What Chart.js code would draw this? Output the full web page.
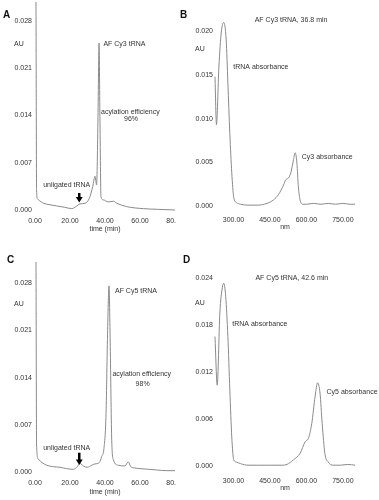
<!DOCTYPE html>
<html><head><meta charset="utf-8">
<script src="https://cdn.jsdelivr.net/npm/chart.js@4/dist/chart.umd.min.js"></script>
<style>
html,body{margin:0;padding:0;background:#fff;width:379px;height:500px;overflow:hidden;font-family:"Liberation Sans",Arial,sans-serif}
.p{position:absolute}
.lt{position:absolute;font:bold 10px "Liberation Sans",Arial,sans-serif;color:#111;line-height:1}
</style></head><body>
<div class="p" style="left:0;top:0;width:176px;height:235px"><canvas id="cA"></canvas></div>
<div class="p" style="left:190px;top:0;width:189px;height:235px"><canvas id="cB"></canvas></div>
<div class="p" style="left:0;top:250px;width:176px;height:250px"><canvas id="cC"></canvas></div>
<div class="p" style="left:190px;top:250px;width:189px;height:250px"><canvas id="cD"></canvas></div>
<div class="lt" style="left:3px;top:10px">A</div>
<div class="lt" style="left:180px;top:10px">B</div>
<div class="lt" style="left:7px;top:255px">C</div>
<div class="lt" style="left:183px;top:255px">D</div>
<script>
// ---- data ----
const aTime = [0, 0.5, 0.9, 1.3, 2.5, 4.8, 8, 12.4, 17, 21, 23.4, 25.7, 28.6, 31, 33, 34.3, 35.2, 36.0, 36.6, 37.1, 37.7, 39, 41.9, 44.8, 46.7, 52.4, 61.9, 70, 80];
const aAbs  = [0.0320, 0.0320, 0.0030, 0.0017, 0.0014, 0.0010, 0.0008, 0.0006, 0.0004, 0.0002, 0.0005, 0.0009, 0.0010, 0.0017, 0.0035, 0.0050, 0.0037, 0.0138, 0.0247, 0.0138, 0.0020, 0.0015, 0.0012, 0.0013, 0.0010, 0.0005, 0.0002, 0.0001, 0.0000];

const bNm  = [224, 230, 240, 250, 260, 270, 277, 285, 293, 301, 312, 329, 360, 400, 438, 465, 485, 506, 515, 526, 536, 547, 554, 561, 567, 574, 585, 600, 630, 660, 690, 720, 750, 780, 800];
const bAbs = [0.0148, 0.0093, 0.0159, 0.0199, 0.0210, 0.0190, 0.0141, 0.0083, 0.0038, 0.0010, 0.0004, 0.0002, 0.0001, 0.0001, 0.0003, 0.0007, 0.0013, 0.0024, 0.0030, 0.0032, 0.0038, 0.0053, 0.0061, 0.0049, 0.0022, 0.0007, 0.0002, 0.0002, 0.0003, 0.0002, 0.0003, 0.0002, 0.0003, 0.0002, 0.0002];

const cTime = [0, 0.5, 0.9, 1.9, 4, 6.7, 10, 14.3, 18, 21.9, 24.2, 25.7, 27.6, 29.9, 32.4, 34.3, 36.8, 38.1, 39.4, 40.6, 41.5, 42.3, 43.0, 43.8, 44.8, 47.6, 51.4, 53.3, 54.7, 57, 60, 65, 69.5, 75, 80];
const cAbs  = [0.0330, 0.0330, 0.0040, 0.0019, 0.0014, 0.0010, 0.0008, 0.0007, 0.0005, 0.0004, 0.0008, 0.0013, 0.0009, 0.0007, 0.0010, 0.0012, 0.0014, 0.0023, 0.0035, 0.0087, 0.0210, 0.0276, 0.0186, 0.0052, 0.0018, 0.0010, 0.0009, 0.0015, 0.0008, 0.0006, 0.0005, 0.0004, 0.0003, 0.0002, 0.0002];

const dNm  = [224, 233, 244, 254, 260, 268, 277, 285, 293, 301, 312, 329, 360, 400, 450, 500, 520, 547, 574, 595, 608, 622, 636, 646, 656, 665, 676, 690, 710, 740, 770, 800];
const dAbs = [0.0165, 0.0103, 0.0195, 0.0227, 0.0233, 0.0216, 0.0165, 0.0097, 0.0037, 0.0008, 0.0005, 0.0003, 0.0001, 0.0001, 0.0001, 0.0001, 0.0002, 0.0008, 0.0016, 0.0031, 0.0035, 0.0054, 0.0089, 0.0106, 0.0093, 0.0054, 0.0016, 0.0005, 0.0001, 0.0001, 0.0002, 0.0001];

const timeTicks = [0, 20, 40, 60, 80];
const nmTicks   = [300, 450, 600, 750];
const yTicksAC  = [0, 0.007, 0.014, 0.021, 0.028];
const yTicksB   = [0, 0.005, 0.010, 0.015, 0.020];
const yTicksD   = [0, 0.006, 0.012, 0.018, 0.024];

// ---- style ----
const TEXT = '#333';
const LINE = '#8a8a8a';
const FONT = '"Liberation Sans", Arial, sans-serif';
const FS = 7;

const annot = {
  id: 'annot',
  afterDatasetsDraw(chart, args, o) {
    const ctx = chart.ctx, xs = chart.scales.x, ys = chart.scales.y;
    ctx.save();
    ctx.fillStyle = TEXT;
    ctx.font = FS + 'px ' + FONT;
    ctx.textBaseline = 'middle';
    (o.texts || []).forEach(t => {
      ctx.textAlign = t.align || 'left';
      ctx.fillText(t.text, xs.getPixelForValue(t.x), ys.getPixelForValue(t.y));
    });
    if (o.au !== undefined) {
      ctx.textAlign = 'left';
      const w = ctx.measureText('0.000').width;
      ctx.fillText('AU', ys.right - o.ypad - w - 0.5, ys.getPixelForValue(o.au));
    }
    if (o.arrow) {
      const ax = Math.round(xs.getPixelForValue(o.arrow.x));
      const top = ys.getPixelForValue(o.arrow.top);
      const tip = ys.getPixelForValue(o.arrow.tip);
      ctx.fillStyle = '#000';
      ctx.fillRect(ax - 1, top, 2.5, tip - top - 4);
      ctx.beginPath();
      ctx.moveTo(ax - 3.2, tip - 5.5);
      ctx.lineTo(ax + 3.7, tip - 5.5);
      ctx.lineTo(ax + 0.25, tip);
      ctx.closePath();
      ctx.fill();
    }
    ctx.restore();
  }
};

function makeChart(id, xv, yv, c) {
  const pts = xv.map((x, i) => ({x: x, y: yv[i]}));
  return new Chart(document.getElementById(id), {
    type: 'line',
    data: {datasets: [{data: pts, borderColor: LINE, borderWidth: 1, pointRadius: 0, tension: 0.3,
      cubicInterpolationMode: 'monotone', fill: false, clip: {left: 2, right: 1, top: 0, bottom: 2}}]},
    options: {
      responsive: true, maintainAspectRatio: false, animation: false, events: [],
      layout: {padding: c.pad},
      plugins: {legend: {display: false}, tooltip: {enabled: false}, annot: c.annot},
      scales: {
        x: {type: 'linear', min: c.xmin, max: c.xmax,
          border: {display: false}, grid: {display: false, drawTicks: false},
          afterBuildTicks: s => { s.ticks = c.xticks.map(v => ({value: v})); },
          ticks: {autoSkip: false, maxRotation: 0, minRotation: 0, padding: c.xpad, color: TEXT,
            font: {size: FS, family: FONT}, callback: v => Number(v).toFixed(2)},
          title: {display: true, text: c.xtitle, color: TEXT, font: {size: FS, family: FONT},
            padding: {top: 0, bottom: c.tpad}},
          afterFit: s => { s.height = c.xh; s.paddingLeft = 0; s.paddingRight = 0; }
        },
        y: {type: 'linear', min: 0, max: c.ymax,
          border: {display: false}, grid: {display: false, drawTicks: false},
          afterBuildTicks: s => { s.ticks = c.yticks.map(v => ({value: v})); },
          ticks: {autoSkip: false, padding: c.ypad, color: TEXT, font: {size: FS, family: FONT},
            callback: v => Number(v).toFixed(3)},
          afterFit: s => { s.width = c.yw; s.paddingTop = 0; s.paddingBottom = 0; }
        }
      }
    },
    plugins: [annot]
  });
}

makeChart('cA', aTime, aAbs, {
  pad: {top: 2, right: 1, left: 0, bottom: 0}, xmin: 0, xmax: 80, ymax: 0.03078,
  xticks: timeTicks, yticks: yTicksAC, xpad: 7, xh: 25, yw: 35, ypad: 3, tpad: 2, xtitle: 'time (min)',
  annot: {ypad: 3, au: 0.0246,
    texts: [
      {text: 'AF Cy3 tRNA', x: 39.1, y: 0.02457},
      {text: 'acylation efficiency', x: 54.5, y: 0.01455, align: 'center'},
      {text: '96%', x: 54.9, y: 0.01342, align: 'center'},
      {text: 'unligated tRNA', x: 18.1, y: 0.0037, align: 'center'}
    ],
    arrow: {x: 25.1, top: 0.00252, tip: 0.00111}}
});

makeChart('cB', bNm, bAbs, {
  pad: {top: 5, right: 24, left: 0, bottom: 0}, xmin: 224, xmax: 800, ymax: 0.023,
  xticks: nmTicks, yticks: yTicksB, xpad: 10, xh: 29, yw: 25, ypad: 2, tpad: 4, xtitle: 'nm',
  annot: {ypad: 2, au: 0.01793,
    texts: [
      {text: 'AF Cy3 tRNA, 36.8 min', x: 537, y: 0.02128, align: 'center'},
      {text: 'tRNA absorbance', x: 299, y: 0.01594},
      {text: 'Cy3 absorbance', x: 581, y: 0.00564}
    ]}
});

makeChart('cC', cTime, cAbs, {
  pad: {top: 12, right: 1, left: 0, bottom: 0}, xmin: 0, xmax: 80, ymax: 0.03114,
  xticks: timeTicks, yticks: yTicksAC, xpad: 7, xh: 28, yw: 35, ypad: 3, tpad: 4, xtitle: 'time (min)',
  annot: {ypad: 3, au: 0.0249,
    texts: [
      {text: 'AF Cy5 tRNA', x: 45.7, y: 0.02689},
      {text: 'acylation efficiency', x: 61, y: 0.01449, align: 'center'},
      {text: '98%', x: 61.5, y: 0.01305, align: 'center'},
      {text: 'unligated tRNA', x: 18.1, y: 0.00351, align: 'center'}
    ],
    arrow: {x: 25.1, top: 0.00286, tip: 0.00104}}
});

makeChart('cD', dNm, dAbs, {
  pad: {top: 12, right: 24, left: 0, bottom: 0}, xmin: 224, xmax: 800, ymax: 0.026,
  xticks: nmTicks, yticks: yTicksD, xpad: 11, xh: 34, yw: 25, ypad: 2, tpad: 8, xtitle: 'nm',
  annot: {ypad: 2, au: 0.02078,
    texts: [
      {text: 'AF Cy5 tRNA, 42.6 min', x: 540, y: 0.02397, align: 'center'},
      {text: 'tRNA absorbance', x: 295, y: 0.01809},
      {text: 'Cy5 absorbance', x: 683, y: 0.00936}
    ]}
});
</script>
</body></html>
